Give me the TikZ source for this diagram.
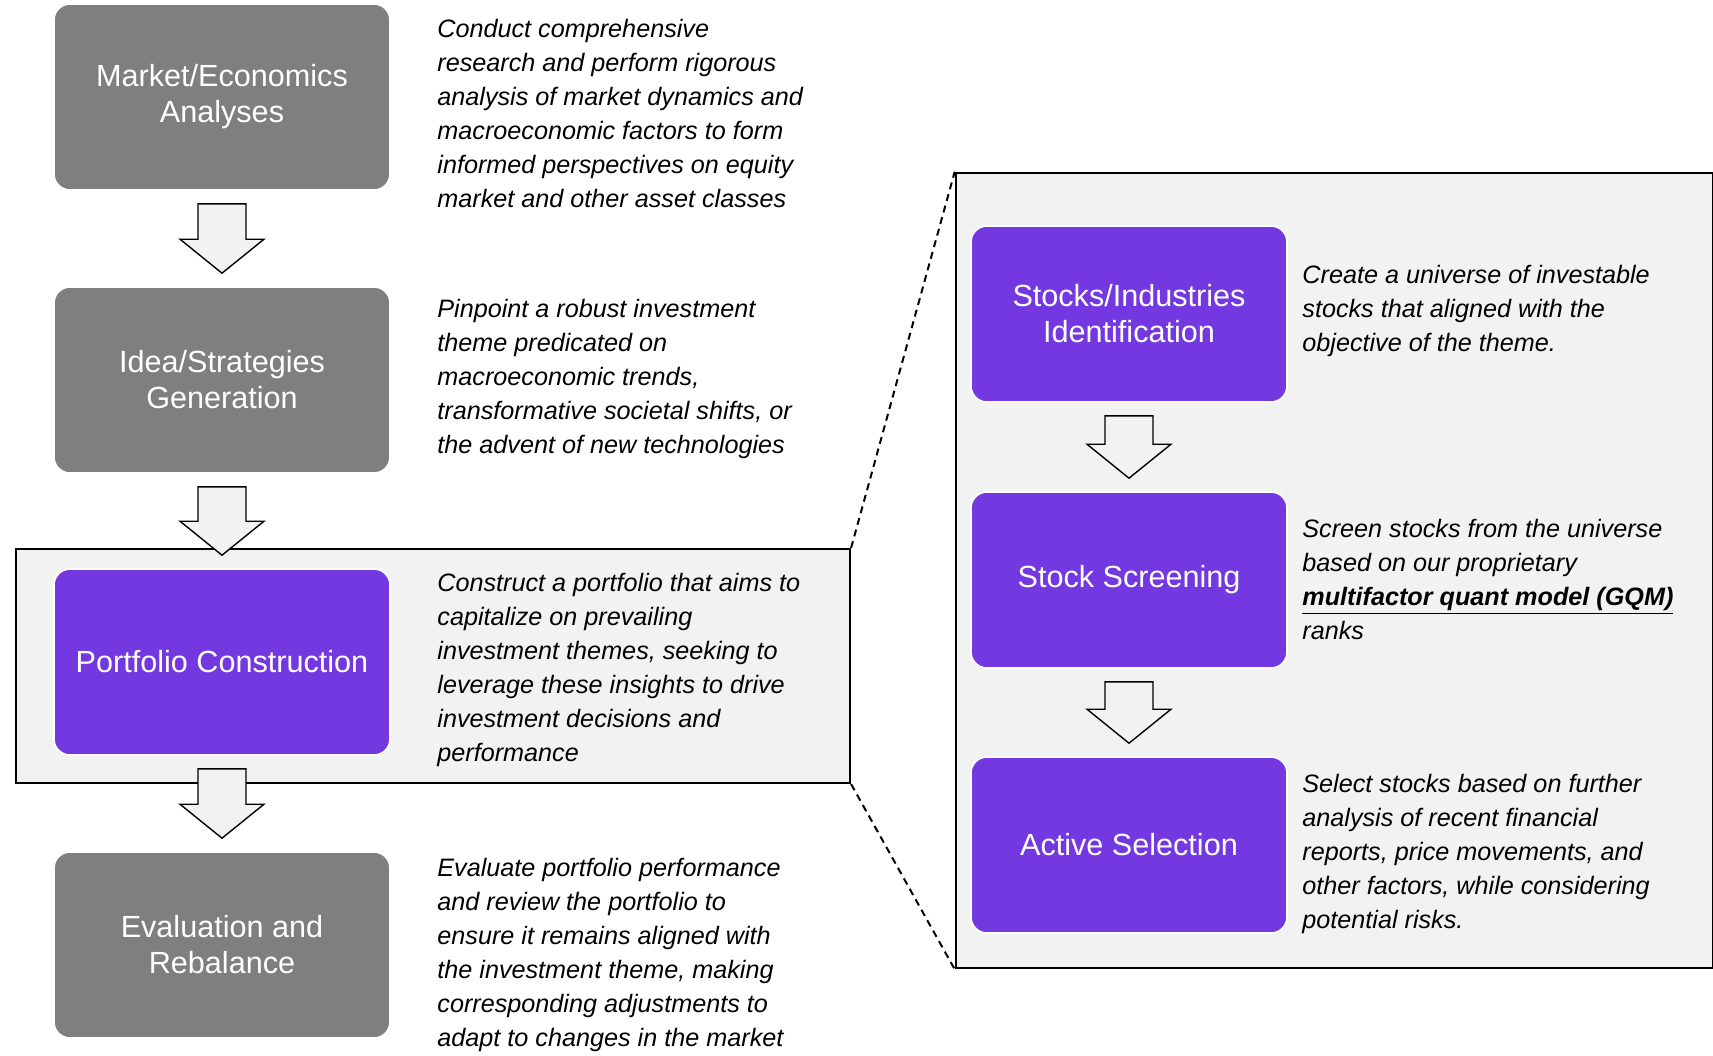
\documentclass[tikz,border=0pt]{standalone}
\usepackage{fontspec}
\setmainfont{Liberation Sans}
\usepackage{tikz}
\usetikzlibrary{calc,positioning}
\definecolor{GQMgray}{HTML}{7F7F7F}
\definecolor{GQMpurple}{HTML}{7338E0}
\definecolor{GQMpale}{HTML}{F2F2F2}

\tikzset{
  stage/.style={rounded corners=8pt,draw=white,line width=0.8pt,text=white,align=center,inner sep=0pt,
    minimum width=168pt,minimum height=93pt,font=\fontsize{15.3}{18}\selectfont},
  graystage/.style={stage,fill=GQMgray},
  purplestage/.style={stage,fill=GQMpurple},
  substage/.style={purplestage,minimum width=158pt,minimum height=88pt},
  note/.style={anchor=north west,align=left,inner sep=0pt,font=\fontsize{12.6}{17}\selectfont\itshape},
  zone/.style={draw=black,fill=GQMpale,inner sep=0pt},
  blockarrow/.style={draw=black,fill=GQMpale,line width=0.7pt,line join=miter},
  zoomline/.style={dash pattern=on 3.5pt off 2.5pt,line width=1pt}
}
\newcommand{\downblock}[2]{%
  \draw[blockarrow] ($(#1.south)+(-24,13)$) -- ($(#2.north)+(-24,-47)$) -- ($(#2.north)+(-42,-47)$)
    -- ($(#2.north)+(0,-13)$) -- ($(#2.north)+(42,-47)$) -- ($(#2.north)+(24,-47)$)
    -- ($(#1.south)+(24,13)$) -- cycle;}

\begin{document}
\begin{tikzpicture}[x=0.5pt,y=-0.5pt]
  \useasboundingbox (0,0) rectangle (1713,1055);

  % highlight and zoom panel
  \node[zone,line width=1.1pt,minimum width=417pt,minimum height=117pt] (portzone) at (433,666) {};
  \node[zone,line width=1.3pt,minimum width=378.5pt,minimum height=397.5pt] (panel) at (1334.5,570.5) {};
  \draw[zoomline] (portzone.north east) -- (panel.north west);
  \draw[zoomline] (portzone.south east) -- (panel.south west);

  % main process
  \node[graystage] (mkt) at (222,97) {Market/Economics\\Analyses};
  \node[graystage] (idea) at (222,380) {Idea/Strategies\\Generation};
  \node[purplestage] (port) at (222,662) {Portfolio Construction};
  \node[graystage] (eval) at (222,945) {Evaluation and\\Rebalance};

  \downblock{mkt}{idea}
  \downblock{idea}{port}
  \downblock{port}{eval}

  \node[note] (mktnote) at (437,19) {Conduct comprehensive\\research and perform rigorous\\analysis of market dynamics and\\macroeconomic factors to form\\informed perspectives on equity\\market and other asset classes};
  \node[note] (ideanote) at (437,299) {Pinpoint a robust investment\\theme predicated on\\macroeconomic trends,\\transformative societal shifts, or\\the advent of new technologies};
  \node[note] (portnote) at (437,573) {Construct a portfolio that aims to\\capitalize on prevailing\\investment themes, seeking to\\leverage these insights to drive\\investment decisions and\\performance};
  \node[note] (evalnote) at (437,858) {Evaluate portfolio performance\\and review the portfolio to\\ensure it remains aligned with\\the investment theme, making\\corresponding adjustments to\\adapt to changes in the market};

  % portfolio construction steps
  \node[substage] (ident) at (1129,314) {Stocks/Industries\\Identification};
  \node[substage] (screen) at (1129,580) {Stock Screening};
  \node[substage] (select) at (1129,845) {Active Selection};

  \downblock{ident}{screen}
  \downblock{screen}{select}

  \node[note] (identnote) at (1302,265) {Create a universe of investable\\stocks that aligned with the\\objective of the theme.};
  \node[note] (screennote) at (1302,519) {Screen stocks from the universe\\based on our proprietary\\\underline{\textbf{multifactor quant model (GQM)}}\\ranks};
  \node[note] (selectnote) at (1302,774) {Select stocks based on further\\analysis of recent financial\\reports, price movements, and\\other factors, while considering\\potential risks.};
\end{tikzpicture}
\end{document}
